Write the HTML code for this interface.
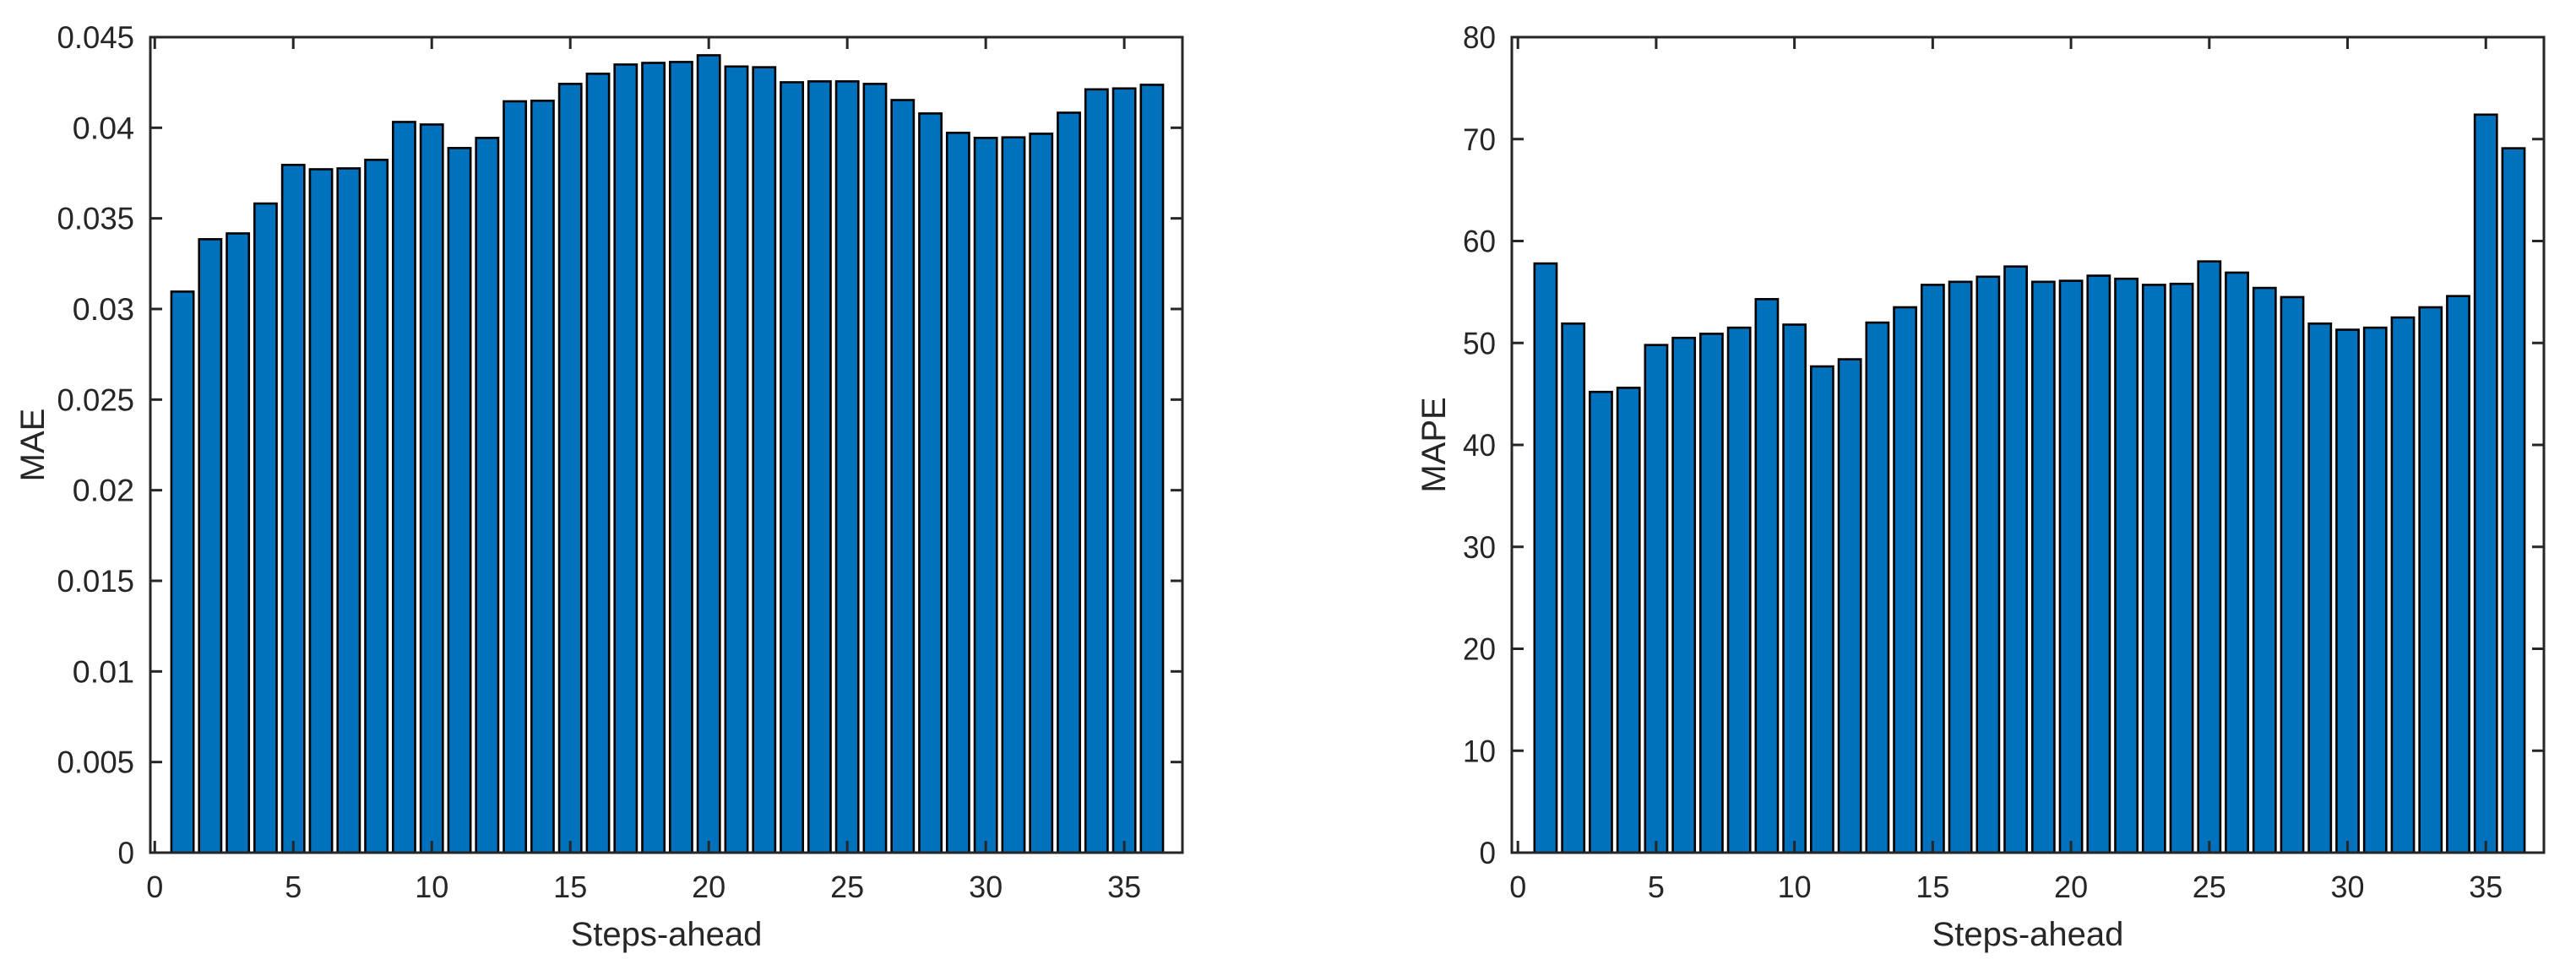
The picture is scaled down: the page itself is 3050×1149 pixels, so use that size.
<!DOCTYPE html>
<html><head><meta charset="utf-8"><style>
html,body{margin:0;padding:0;background:#fff;}
svg{display:block;}
text{font-family:"Liberation Sans",Arial,sans-serif;fill:#262626;}
</style></head><body>
<svg id="fig" width="3050" height="1149" viewBox="0 0 3050 1149" xmlns="http://www.w3.org/2000/svg"></svg>
<script>
const steps = [1,2,3,4,5,6,7,8,9,10,11,12,13,14,15,16,17,18,19,20,21,22,23,24,25,26,27,28,29,30,31,32,33,34,35,36];
const maeValues = [0.03096,0.03385,0.03417,0.03582,0.03795,0.03771,0.03776,0.03823,0.04032,0.04018,0.03888,0.03944,0.04146,0.04149,0.04242,0.04298,0.04349,0.04358,0.04363,0.04400,0.04338,0.04334,0.04251,0.04256,0.04256,0.04242,0.04153,0.04079,0.03972,0.03944,0.03947,0.03967,0.04083,0.04212,0.04217,0.04237];
const mapeValues = [57.8,51.9,45.2,45.6,49.8,50.5,50.9,51.5,54.3,51.8,47.7,48.4,52.0,53.5,55.7,56.0,56.5,57.5,56.0,56.1,56.6,56.3,55.7,55.8,58.0,56.9,55.4,54.5,51.9,51.3,51.5,52.5,53.5,54.6,72.4,69.1];
const xTicks = [0,5,10,15,20,25,30,35];
const maeTicks = [0,0.005,0.01,0.015,0.02,0.025,0.03,0.035,0.04,0.045];
const maeTickLabels = ["0","0.005","0.01","0.015","0.02","0.025","0.03","0.035","0.04","0.045"];
const mapeTicks = [0,10,20,30,40,50,60,70,80];
const mapeTickLabels = ["0","10","20","30","40","50","60","70","80"];

const NS = "http://www.w3.org/2000/svg";
const svg = document.getElementById('fig');
function mk(tag, attrs, parent){
  const e = document.createElementNS(NS, tag);
  for (const k in attrs) e.setAttribute(k, attrs[k]);
  (parent||svg).appendChild(e);
  return e;
}

function drawPanel(cfg){
  const g = mk('g', {});
  
  
  const L = cfg.left, R = cfg.right, T = 44, B = 1010;
  const xMin = cfg.xMin, xMax = 37.1;
  const xs = v => L + (v - xMin) / (xMax - xMin) * (R - L);
  const ys = v => B - (v - cfg.yMin) / (cfg.yMax - cfg.yMin) * (B - T);
  const bw = (xs(1) - xs(0)) * 0.8;
  // bars
  for (let i = 0; i < steps.length; i++) {
    const x = xs(steps[i]) - bw / 2, y = ys(cfg.values[i]);
    const r = mk('rect', {x: x, y: y, width: bw, height: B - y, fill: '#0072BD', stroke: '#000', 'stroke-width': 2.6}, g);
    
    
  }
  // axes box
  const box = mk('rect', {x: L, y: T, width: R - L, height: B - T, fill: 'none', stroke: '#262626', 'stroke-width': 3}, g);
  
  
  // x ticks
  xTicks.forEach(t => {
    const x = xs(t);
    mk('line', {x1: x, y1: B, x2: x, y2: B - 14, stroke: '#262626', 'stroke-width': 3}, g);
    mk('line', {x1: x, y1: T, x2: x, y2: T + 14, stroke: '#262626', 'stroke-width': 3}, g);
    const tx = mk('text', {x: x, y: 1063, 'font-size': 36, 'text-anchor': 'middle'}, g);
    tx.textContent = String(t);
    
    
  });
  // y ticks
  cfg.ticks.forEach((t, i) => {
    const y = ys(t);
    mk('line', {x1: L, y1: y, x2: L + 14, y2: y, stroke: '#262626', 'stroke-width': 3}, g);
    mk('line', {x1: R, y1: y, x2: R - 14, y2: y, stroke: '#262626', 'stroke-width': 3}, g);
    const lab = cfg.labels[i];
    const tx = mk('text', {x: L - 19, y: y + 13, 'font-size': 37, 'text-anchor': 'end', textLength: lab.length * (lab.indexOf('.') >= 0 ? 18.3 : 19.5), lengthAdjust: 'spacingAndGlyphs'}, g);
    tx.textContent = lab;
    
    
  });
  const xt = mk('text', {x: (L + R) / 2, y: 1120, 'font-size': 40, 'text-anchor': 'middle'}, g);
  xt.textContent = 'Steps-ahead';
  
  
  const yt = mk('text', {x: 0, y: 0, 'font-size': 40, 'text-anchor': 'middle', transform: 'translate(' + cfg.yTitleX + ',527) rotate(-90)'}, g);
  yt.textContent = cfg.yTitle;
  
  
}

drawPanel({name: 'mae-chart', left: 178, right: 1400, xMin: -0.16, values: maeValues, yMin: 0, yMax: 0.045, ticks: maeTicks, labels: maeTickLabels, yTitle: 'MAE', yTitleX: 52});
drawPanel({name: 'mape-chart', left: 1790, right: 3012, xMin: -0.22, values: mapeValues, yMin: 0, yMax: 80, ticks: mapeTicks, labels: mapeTickLabels, yTitle: 'MAPE', yTitleX: 1711});
</script>
</body></html>
